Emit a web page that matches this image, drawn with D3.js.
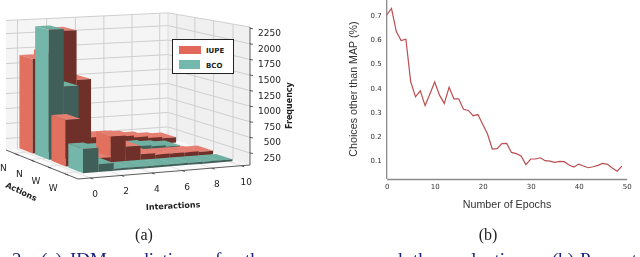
<!DOCTYPE html>
<html>
<head>
<meta charset="utf-8">
<script src="https://cdn.jsdelivr.net/npm/d3@7"></script>
<style>
  html, body { margin: 0; padding: 0; background: #fff; overflow: hidden; }
  svg { display: block; }
  .soft { filter: blur(0.45px); }
</style>
</head>
<body>
<div id="chart"></div>
<script>
// values
var interactionTicks = [0, 2, 4, 6, 8, 10];
var frequencyTicks = [250, 500, 750, 1000, 1250, 1500, 1750, 2000, 2250];
var actionLabels = ["W", "W", "N", "N"];

var bcoFront  = [440, 180, 90, 90, 90, 90, 90, 90, 90, 90];
var iupeMid   = [800, 300, 150, 480, 300, 160, 135, 135, 135, 125];
var bcoMid    = [2170, 1230, 200, 170, 170, 170, 170, 150, 130];
var iupeBack  = [1620, 1700, 2060, 1230, 250, 250, 230, 200, 170, 150];

var epochs = [0.70, 0.727, 0.632, 0.595, 0.60, 0.425, 0.363, 0.388, 0.327, 0.375,
              0.424, 0.37, 0.336, 0.402, 0.355, 0.355, 0.312, 0.307, 0.285, 0.29,
              0.25, 0.21, 0.148, 0.15, 0.17, 0.171, 0.134, 0.129, 0.12, 0.084,
              0.107, 0.107, 0.112, 0.10, 0.098, 0.093, 0.097, 0.096, 0.082, 0.074,
              0.086, 0.078, 0.071, 0.075, 0.081, 0.089, 0.085, 0.07, 0.057, 0.078];
var epochTicks = [0, 10, 20, 30, 40, 50];
var choiceTicks = [0.1, 0.2, 0.3, 0.4, 0.5, 0.6, 0.7];

var captionWords = ["2:", "(a)", "IDM", "predictions", "for", "the", "and", "the", "evaluations.", "(b)", "Percent"];
var captionX = [12, 41, 70, 115, 215, 245, 375, 413, 445, 552, 580];

var svg = d3.select("#chart").append("svg")
    .attr("width", 640)
    .attr("height", 257);

// ---- (a) 3d bars ----
var plotA = svg.append("g").attr("class", "soft");

// floor corners on screen
var A = [78, 179], B = [250, 165], D = [168, 138], C = [6, 150];

var dx1 = B[0] - D[0], dx2 = C[0] - D[0], sx = A[0] - B[0] + D[0] - C[0];
var dy1 = B[1] - D[1], dy2 = C[1] - D[1], sy = A[1] - B[1] + D[1] - C[1];
var den = dx1 * dy2 - dx2 * dy1;
var g = (sx * dy2 - dx2 * sy) / den;
var h = (dx1 * sy - sx * dy1) / den;
var a = B[0] - A[0] + g * B[0], b = C[0] - A[0] + h * C[0];
var d = B[1] - A[1] + g * B[1], e = C[1] - A[1] + h * C[1];

var uScale = d3.scaleLinear().domain([-0.78, 10.6]).range([0, 1]);
var vScale = d3.scaleLinear().domain([0, 4.35]).range([0, 1]);
var zScale = d3.scaleLinear().domain([58, 2270]).range([0, 138]);

function project(u, v, z) {
  var s = uScale(u), t = vScale(v);
  var w = g * s + h * t + 1;
  var k = (g + 1) / w;
  return [(a * s + b * t + A[0]) / w, (d * s + e * t + A[1]) / w - zScale(z) * k];
}
function poly(pts) {
  return pts.map(function(p) { return p.join(","); }).join(" ");
}

var zMin = 58, zTop = 2270, zBack = 2220, uMin = -0.78, uMax = 10.6, vMin = 0, vMax = 4.35;

// walls and floor
plotA.append("polygon")
    .attr("points", poly([project(uMin, vMax, zMin), project(uMax, vMax, zMin), project(uMax, vMax, zBack), project(uMin, vMax, zBack)]))
    .attr("fill", "#f5f5f5");
plotA.append("polygon")
    .attr("points", poly([project(uMax, vMax, zMin), project(uMax, vMin, zMin), project(uMax, vMin, zTop), project(uMax, vMax, zBack)]))
    .attr("fill", "#f0f0f0");
plotA.append("polygon")
    .attr("points", poly([project(uMin, vMin, zMin), project(uMax, vMin, zMin), project(uMax, vMax, zMin), project(uMin, vMax, zMin)]))
    .attr("fill", "#fafafa");

function gridLine(p, q, col) {
  plotA.append("line")
      .attr("x1", p[0]).attr("y1", p[1]).attr("x2", q[0]).attr("y2", q[1])
      .attr("stroke", col || "#cfcfcf").attr("stroke-width", 1);
}
frequencyTicks.slice(0, -1).forEach(function(f) {
  gridLine(project(uMin, vMax, f), project(uMax, vMax, f));
  gridLine(project(uMax, vMax, f), project(uMax, vMin, f));
});
interactionTicks.forEach(function(t) {
  gridLine(project(t, vMax, zMin), project(t, vMax, zBack));
  gridLine(project(t, vMin, zMin), project(t, vMax, zMin), "#e2e2e2");
});
actionLabels.forEach(function(l, i) {
  var vv = i + 0.85;
  gridLine(project(uMax, vv, zMin), project(uMax, vv, zTop + (zBack - zTop) * vv / vMax));
  gridLine(project(uMin, vv, zMin), project(uMax, vv, zMin), "#e2e2e2");
});
gridLine(project(uMin, vMax, zBack), project(uMax, vMax, zBack));
gridLine(project(uMax, vMax, zBack), project(uMax, vMin, zTop));
gridLine(project(uMax, vMax, zMin), project(uMax, vMax, zBack), "#dcdcdc");

// axis edges
var edge = "#333";
[[project(uMin, vMin, zMin), project(uMax, vMin, zMin)],
 [project(uMin, vMin, zMin), project(uMin, vMax, zMin)],
 [project(uMax, vMin, zMin), project(uMax, vMin, zTop)]].forEach(function(l) {
  plotA.append("line")
      .attr("x1", l[0][0]).attr("y1", l[0][1]).attr("x2", l[1][0]).attr("y2", l[1][1])
      .attr("stroke", edge).attr("stroke-width", 0.8);
});

// one row per series, painted back to front
var salmon = {top: "#e57f72", left: "#e2705f", front: "#6e3029"};
var teal = {top: "#6fb0a2", left: "#74b6aa", front: "#3f5f58"};
var rows = [
  {vals: iupeBack, v: 3, col: salmon},
  {vals: bcoMid, v: 2, col: teal},
  {vals: iupeMid, v: 1, col: salmon},
  {vals: bcoFront, v: 0, col: teal}
];
var rowStart = 0.62, rowDepth = 0.84, barStart = 0.25;

var bars = [];
rows.forEach(function(r) {
  d3.range(r.vals.length - 1, -1, -1).forEach(function(i) {
    bars.push({u0: i + barStart, u1: i + barStart + 1,
               v0: r.v + rowStart, v1: r.v + rowStart + rowDepth,
               z: r.vals[i], col: r.col});
  });
});

var barG = plotA.selectAll("g.bar").data(bars).enter().append("g").attr("class", "bar");
barG.append("polygon")
    .attr("points", function(m) { return poly([project(m.u0, m.v0, m.z), project(m.u1, m.v0, m.z), project(m.u1, m.v1, m.z), project(m.u0, m.v1, m.z)]); })
    .attr("fill", function(m) { return m.col.top; });
barG.append("polygon")
    .attr("points", function(m) { return poly([project(m.u0, m.v0, zMin), project(m.u0, m.v1, zMin), project(m.u0, m.v1, m.z), project(m.u0, m.v0, m.z)]); })
    .attr("fill", function(m) { return m.col.left; });
barG.append("polygon")
    .attr("points", function(m) { return poly([project(m.u0, m.v0, zMin), project(m.u1, m.v0, zMin), project(m.u1, m.v0, m.z), project(m.u0, m.v0, m.z)]); })
    .attr("fill", function(m) { return m.col.front; });

// ticks and labels
var sans = "'DejaVu Sans', sans-serif";
function tick(p, q) {
  plotA.append("line")
      .attr("x1", p[0]).attr("y1", p[1]).attr("x2", q[0]).attr("y2", q[1])
      .attr("stroke", "#333").attr("stroke-width", 0.8);
}
frequencyTicks.forEach(function(f) {
  var p = project(uMax, vMin, f);
  tick([p[0], p[1]], [p[0] + 3, p[1] + 0.5]);
  plotA.append("text").attr("x", 281).attr("y", p[1] + 8)
      .attr("text-anchor", "end").attr("font-family", sans).attr("font-size", 9)
      .attr("fill", "#222").text(f);
});
interactionTicks.forEach(function(t) {
  var p = project(t, vMin, zMin);
  tick([p[0], p[1]], [p[0] + 3, p[1] + 1]);
  plotA.append("text").attr("x", p[0] + 5).attr("y", p[1] + 19)
      .attr("text-anchor", "middle").attr("font-family", sans).attr("font-size", 9)
      .attr("fill", "#222").text(t);
});
actionLabels.forEach(function(l, i) {
  var p = project(uMin, i + 0.55, zMin);
  tick([p[0], p[1]], [p[0] - 3, p[1] - 1]);
  plotA.append("text").attr("x", p[0] - 15).attr("y", p[1] + 16)
      .attr("text-anchor", "middle").attr("font-family", sans).attr("font-size", 9)
      .attr("fill", "#222").text(l);
});

plotA.append("text").attr("transform", "translate(5,187) rotate(25)")
    .attr("font-family", sans).attr("font-size", 8).attr("font-weight", "bold")
    .attr("fill", "#222").text("Actions");
plotA.append("text").attr("transform", "translate(146,210) rotate(-3)")
    .attr("font-family", sans).attr("font-size", 8).attr("font-weight", "bold")
    .attr("fill", "#222").text("Interactions");
plotA.append("text").attr("transform", "translate(292,129) rotate(-90)")
    .attr("font-family", sans).attr("font-size", 8).attr("font-weight", "bold")
    .attr("fill", "#222").text("Frequency");

// legend
plotA.append("rect").attr("x", 172.5).attr("y", 39.5).attr("width", 61).attr("height", 34)
    .attr("fill", "#fff").attr("stroke", "#222").attr("stroke-width", 1);
plotA.append("rect").attr("x", 179).attr("y", 46).attr("width", 22).attr("height", 8).attr("fill", "#e0695c");
plotA.append("rect").attr("x", 179).attr("y", 60).attr("width", 21).attr("height", 9).attr("fill", "#72b8ac");
plotA.append("text").attr("x", 206).attr("y", 53).attr("font-family", sans).attr("font-size", 7)
    .attr("font-weight", "bold").attr("fill", "#222").text("IUPE");
plotA.append("text").attr("x", 206).attr("y", 67.5).attr("font-family", sans).attr("font-size", 7)
    .attr("font-weight", "bold").attr("fill", "#222").text("BCO");

// ---- (b) line ----
var plotB = svg.append("g").attr("class", "soft");
var x = d3.scaleLinear().domain([0, 50]).range([386.7, 626.7]);
var y = d3.scaleLinear().domain([0.1, 0.7]).range([160.7, 15]);

var xAxis = plotB.append("g")
    .attr("transform", "translate(0,179)")
    .call(d3.axisBottom(x).tickValues(epochTicks).tickSize(0).tickPadding(5));
var yAxis = plotB.append("g")
    .attr("transform", "translate(386.7,0)")
    .call(d3.axisLeft(y).tickValues(choiceTicks).tickFormat(d3.format(".1f")).tickSize(0).tickPadding(5));
yAxis.select(".domain").attr("d", "M0,-1V179");
plotB.selectAll(".domain").attr("stroke", "#8a8a8a").attr("stroke-width", 1.3);
plotB.selectAll(".tick text").attr("font-family", sans).attr("font-size", 7).attr("fill", "#333");

plotB.append("path")
    .datum(epochs)
    .attr("fill", "none")
    .attr("stroke", "#bb4f52")
    .attr("stroke-width", 1.2)
    .attr("d", d3.line().x(function(v, i) { return x(i); }).y(function(v) { return y(v); }));

plotB.append("text").attr("x", 507).attr("y", 208).attr("text-anchor", "middle")
    .attr("font-family", "'Liberation Sans', sans-serif").attr("font-size", 10.7)
    .attr("fill", "#333").text("Number of Epochs");
plotB.append("text").attr("transform", "translate(357,89) rotate(-90)").attr("text-anchor", "middle")
    .attr("font-family", "'Liberation Sans', sans-serif").attr("font-size", 10.7)
    .attr("fill", "#333").text("Choices other than MAP (%)");

// ---- captions ----
var serif = "'Liberation Serif', serif";
var captions = svg.append("g").attr("class", "soft");
captions.append("text").attr("x", 144).attr("y", 240).attr("text-anchor", "middle")
    .attr("font-family", serif).attr("font-size", 16).attr("fill", "#222").text("(a)");
captions.append("text").attr("x", 488).attr("y", 240).attr("text-anchor", "middle")
    .attr("font-family", serif).attr("font-size", 16).attr("fill", "#222").text("(b)");
captions.selectAll("text.cap").data(captionWords).enter().append("text")
    .attr("class", "cap")
    .attr("x", function(w, i) { return captionX[i]; })
    .attr("y", 266)
    .attr("font-family", serif).attr("font-size", 19).attr("fill", "#1a237e")
    .text(function(w) { return w; });
</script>
</body>
</html>
